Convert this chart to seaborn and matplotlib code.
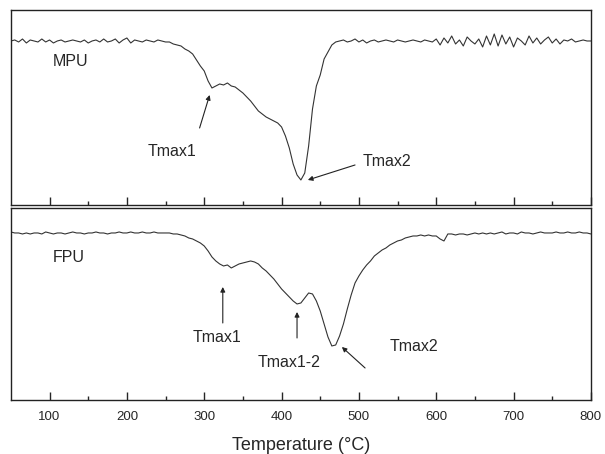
import numpy as np
import pandas as pd
import matplotlib
matplotlib.use("Agg")
import matplotlib.pyplot as plt
import seaborn as sns

# temperature grid (deg C), one reading every 5 degrees
temperature = np.arange(50, 801, 5)

# DTG signal, arbitrary units (baseline = 0)
mpu = [0, 1, -1, 2, -2, 1, 0, -1, 2, -1,
       1, -2, 0, 1, -1, 0, 1, 0, -1, 1,
       -2, 0, 1, -1, 2, -1, 0, 2, -2, 1,
       3, -2, 1, 0, -1, 1, 0, -1, 1, 0,
       -1, -1, -3, -4, -5, -8, -10, -13, -19, -25,
       -30, -40, -47, -45, -43, -44, -42, -45, -46, -49,
       -52, -56, -60, -65, -70, -73, -76, -78, -80, -82,
       -86, -95, -107, -123, -134, -139, -132, -105, -68, -45,
       -34, -18, -11, -4, -1, 0, 1, -1, 0, 2,
       -1, 1, -2, 0, 1, -1, 0, 1, 0, -1,
       1, 0, -1, 0, 1, 0, -1, 1, 0, -1,
       2, -4, 3, -2, 5, -3, 1, -5, 4, 0,
       -3, 2, -6, 5, -4, 7, -5, 6, -3, 4,
       -6, 3, 0, -4, 5, -2, 3, -3, 1, 4,
       -2, 2, -3, 1, 0, 2, -1, 0, 1, 0,
       0]

fpu = [1, 0, 0, -1, 0, -1, 0, 0, -1, 1,
       0, -1, 0, 0, -1, 0, 1, 0, 0, -1,
       0, 0, 1, 0, 0, -1, 0, 0, 1, 0,
       0, 1, 0, 0, 1, 0, 0, 1, 0, 0,
       0, 0, -1, -1, -2, -3, -5, -6, -8, -10,
       -13, -18, -24, -28, -31, -33, -32, -35, -33, -31,
       -30, -29, -28, -29, -31, -35, -38, -42, -46, -51,
       -56, -60, -64, -68, -71, -70, -65, -60, -61, -68,
       -78, -91, -104, -113, -112, -103, -91, -76, -62, -50,
       -43, -37, -32, -28, -23, -20, -17, -15, -12, -10,
       -8, -7, -5, -4, -3, -3, -2, -3, -2, -3,
       -3, -6, -8, -1, -1, -2, -1, -1, -2, -1,
       0, -1, 0, -1, 0, -1, 0, 1, -1, 0,
       0, -1, 1, 0, 0, -1, 0, 1, 0, 0,
       0, 1, 0, 0, 1, 0, 0, 1, 0, 0,
       -1]

assert len(mpu) == len(temperature) and len(fpu) == len(temperature)

df = pd.DataFrame({"Temperature": temperature, "MPU": mpu, "FPU": fpu})

sns.set_style("ticks")
plt.rcParams["font.family"] = ["Liberation Sans", "DejaVu Sans"]

line_color = "#333333"
fig = plt.figure(figsize=(6.05, 4.54), dpi=100)
ax_top = fig.add_axes([0.018, 0.5485, 0.9587, 0.4295])
ax_bot = fig.add_axes([0.018, 0.119, 0.9587, 0.4229])

sns.lineplot(data=df, x="Temperature", y="MPU", ax=ax_top,
             color=line_color, lw=0.8)
sns.lineplot(data=df, x="Temperature", y="FPU", ax=ax_bot,
             color=line_color, lw=0.8)

ax_top.set_ylim(-164, 31)
ax_bot.set_ylim(-167, 25)

for ax in (ax_top, ax_bot):
    ax.set_xlim(50, 800)
    ax.set_xticks(range(100, 801, 100))
    ax.set_xticks(range(150, 800, 100), minor=True)
    ax.tick_params(axis="x", which="major", direction="in", length=6,
                   width=1, labelsize=9.5, pad=8)
    ax.tick_params(axis="x", which="minor", direction="in", length=3, width=1)
    ax.set_yticks([])
    ax.set_ylabel("")
    for s in ax.spines.values():
        s.set_color("#222222")
        s.set_linewidth(1.0)

ax_top.tick_params(axis="x", labelbottom=False)
ax_top.set_xlabel("")
ax_bot.set_xlabel("Temperature (°C)", fontsize=13, labelpad=10)

fs = 11.5
arrow = dict(arrowstyle="-|>", color="#222222", lw=0.8,
             mutation_scale=7, shrinkA=0, shrinkB=0)

# MPU panel
ax_top.text(104, -21, "MPU", fontsize=fs, va="center")
ax_top.text(227, -111, "Tmax1", fontsize=fs, va="center")
ax_top.annotate("", xy=(307, -54), xytext=(294, -87), arrowprops=arrow)
ax_top.text(505, -121, "Tmax2", fontsize=fs, va="center")
ax_top.annotate("", xy=(434, -139), xytext=(495, -124), arrowprops=arrow)

# FPU panel
ax_bot.text(104, -25, "FPU", fontsize=fs, va="center")
ax_bot.text(316, -105, "Tmax1", fontsize=fs, va="center", ha="center")
ax_bot.annotate("", xy=(324, -54), xytext=(324, -90), arrowprops=arrow)
ax_bot.text(410, -130, "Tmax1-2", fontsize=fs, va="center", ha="center")
ax_bot.annotate("", xy=(420, -79), xytext=(420, -105), arrowprops=arrow)
ax_bot.text(540, -114, "Tmax2", fontsize=fs, va="center")
ax_bot.annotate("", xy=(478, -114), xytext=(508, -135), arrowprops=arrow)

fig.savefig("out.png", dpi=100)
plt.close(fig)
